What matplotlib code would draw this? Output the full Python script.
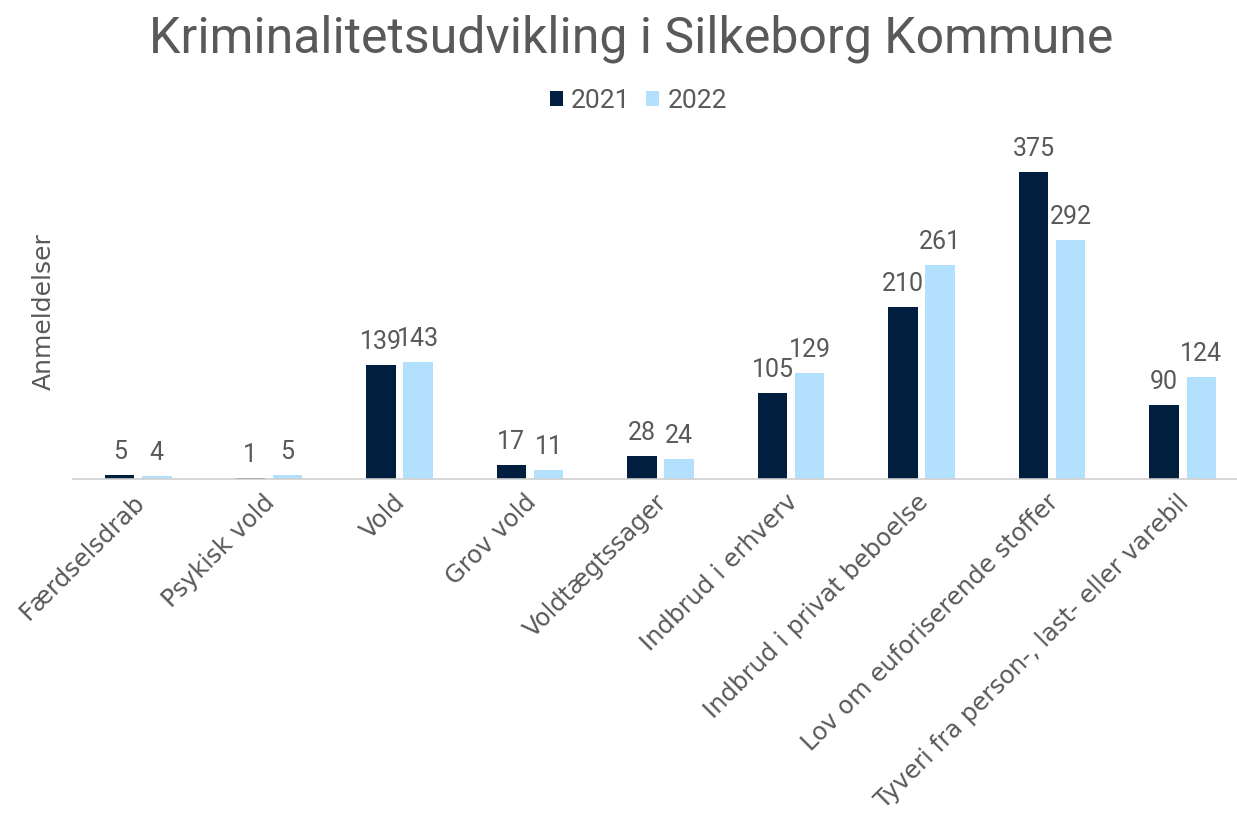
import numpy as np
import matplotlib.pyplot as plt
from matplotlib.transforms import ScaledTranslation

# Data
categories = ['Færdselsdrab', 'Psykisk vold', 'Vold', 'Grov vold', 'Voldtægtssager',
              'Indbrud i erhverv', 'Indbrud i privat beboelse',
              'Lov om euforiserende stoffer', 'Tyveri fra person-, last- eller varebil']
values_2021 = [5, 1, 139, 17, 28, 105, 210, 375, 90]
values_2022 = [4, 5, 143, 11, 24, 129, 261, 292, 124]

dark = '#001F3F'
light = '#B3E1FD'
txt = '#595959'

plt.rcParams['font.family'] = ['DejaVu Sans']
num_font = ['Roboto', 'DejaVu Sans']

fig = plt.figure(figsize=(12.37, 8.16), dpi=100)
ax = fig.add_axes([73 / 1237, 1 - 479 / 816, (1248 - 73) / 1237, 335 / 816])

x = np.arange(len(categories))
w = 0.225
off = 0.142
b1 = ax.bar(x - off, values_2021, w, color=dark, label='2021')
b2 = ax.bar(x + off, values_2022, w, color=light, label='2022')

for bars in (b1, b2):
    for rect in bars:
        h = rect.get_height()
        ax.annotate(f'{h:.0f}', (rect.get_x() + rect.get_width() / 2, h),
                    xytext=(0, 8), textcoords='offset points',
                    ha='center', va='bottom', fontsize=18, color=txt, family=num_font)

ax.set_xlim(-0.5, 8.5)
ax.set_ylim(0, 409)
ax.set_yticks([])
for s in ['top', 'right', 'left']:
    ax.spines[s].set_visible(False)
ax.spines['bottom'].set_color('#D0D0D0')
ax.spines['bottom'].set_linewidth(1.2)

ax.set_xticks(x)
ax.tick_params(axis='x', length=0, pad=8)
ax.set_xticklabels(categories, rotation=45, ha='right', va='top', rotation_mode='anchor',
                   fontsize=17.5, color=txt)
# nudge the rotated labels a little to the left
shift = ScaledTranslation(-6 / 100, 0, fig.dpi_scale_trans)
for lbl in ax.get_xticklabels():
    lbl.set_transform(lbl.get_transform() + shift)

ax.set_ylabel('Anmeldelser', fontsize=18, color=txt)
ax.yaxis.set_label_coords(-0.0145, 0.5)

fig.text(0.5105, 0.953, 'Kriminalitetsudvikling i Silkeborg Kommune', ha='center', va='center',
         fontsize=36, color=txt, family=num_font)

leg = fig.legend(loc='center', bbox_to_anchor=(0.516, 0.876), ncol=2, frameon=False,
                 prop={'family': num_font, 'size': 19},
                 handlelength=0.5, handleheight=0.5, handletextpad=0.3,
                 columnspacing=0.6)
for t in leg.get_texts():
    t.set_color(txt)

fig.savefig('out.png', dpi=100)
